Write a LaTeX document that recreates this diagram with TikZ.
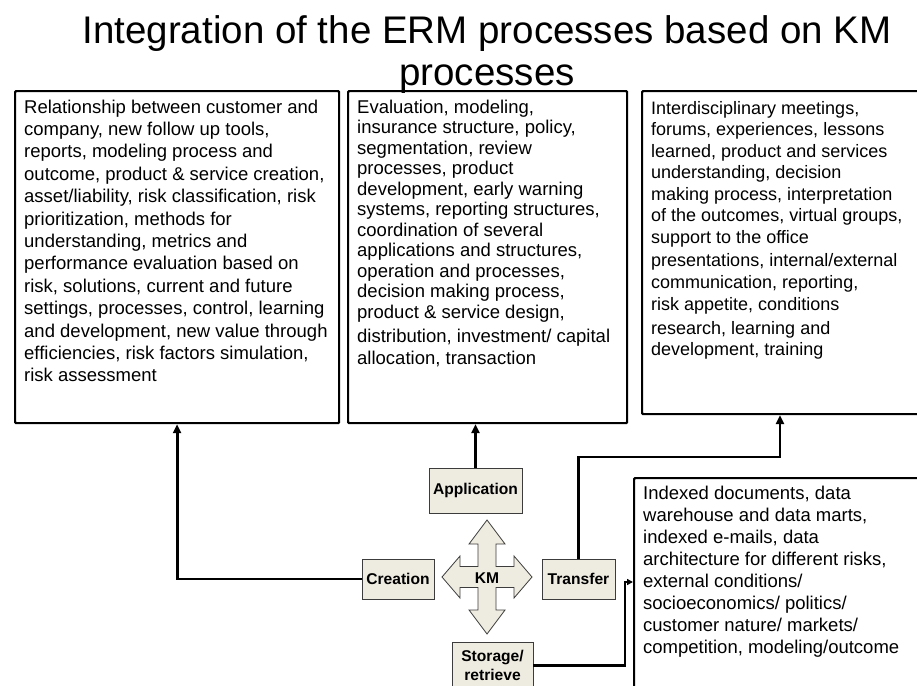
\documentclass[tikz,border=0pt]{standalone}
\usepackage{fontspec}
\setmainfont{Liberation Sans}
\usetikzlibrary{arrows.meta}
\definecolor{kmfill}{RGB}{238,236,225}
\definecolor{kmline}{RGB}{60,60,60}
\newcommand\boxfont[2]{\fontsize{#1}{#2}\selectfont\lineskiplimit=-8pt\relax}
\begin{document}
\begin{tikzpicture}[x=1pt, y=-1pt, >={Triangle[length=9pt,width=8pt]},
	box/.style={draw, line width=2.2pt, rounded corners=1pt, anchor=north west, inner sep=0pt},
	boxtext/.style={anchor=north west, align=left, inner sep=0pt, font=\boxfont{18.5}{22.4}},
	kmbox/.style={draw=kmline, fill=kmfill, line width=0.8pt, align=center, inner sep=0pt, font=\fontsize{15.6}{19}\selectfont\bfseries},
	kmarrow/.style={draw=kmline, fill=kmfill, line width=0.8pt, line join=miter},
	conn/.style={line width=2.8pt}
	]
	\useasboundingbox (0,0) rectangle (917,685);
	
	\node [align=center, anchor=north, inner sep=0pt, font=\fontsize{38.5}{42}\selectfont] (title) at (487,15) {Integration of the ERM processes based on KM\\processes};
	
	\node [box, minimum width=324pt, minimum height=332pt] (c) at (14,90) {};
	\node [box, minimum width=279pt, minimum height=332pt] (a) at (347,90) {};
	\node [box, minimum width=300pt, minimum height=323pt] (t) at (641,90) {};
	\node [box, minimum width=320pt, minimum height=260pt] (s) at (633,477) {};
	
	\node [boxtext] (ct) at (24,99.5) {Relationship between customer and\\
		company, new follow up tools,\\
		reports, modeling process and\\
		outcome, product \& service creation,\\
		asset/liability, risk classification, risk\\
		prioritization, methods for\\
		understanding, metrics and\\
		performance evaluation based on\\
		risk, solutions, current and future\\
		settings, processes, control, learning\\
		and development, new value through\\
		efficiencies, risk factors simulation,\\
		risk assessment};
	\node [boxtext, font=\boxfont{18.5}{20.5}] (at) at (357,99.5) {Evaluation, modeling,\\
		insurance structure, policy,\\
		segmentation, review\\
		processes, product\\
		development, early warning\\
		systems, reporting structures,\\
		coordination of several\\
		applications and structures,\\
		operation and processes,\\
		decision making process,\\
		product \& service design,\\[4pt]
		distribution, investment/ capital\\[1pt]
		allocation, transaction};
	\node [boxtext, font=\boxfont{18}{21.5}] (tt) at (651,101) {Interdisciplinary meetings,\\
		forums, experiences, lessons\\
		learned, product and services\\
		understanding, decision\\
		making process, interpretation\\
		of the outcomes, virtual groups,\\
		support to the office\\[2pt]
		presentations, internal/external\\
		communication, reporting,\\[1pt]
		risk appetite, conditions\\[2pt]
		research, learning and\\
		development, training};
	\node [boxtext, font=\boxfont{18.5}{22}] (st) at (643,485.5) {Indexed documents, data\\
		warehouse and data marts,\\
		indexed e-mails, data\\
		architecture for different risks,\\
		external conditions/\\
		socioeconomics/ politics/\\
		customer nature/ markets/\\
		competition, modeling/outcome};
	
	\begin{scope}[shift={(487,577)}]
		\draw [kmarrow] (0,-57) -- (18,-33) -- (9,-33) -- (9,-10.5) -- (27,-10.5) -- (27,-21) -- (45,0)
			-- (27,21) -- (27,10.5) -- (9,10.5) -- (9,33) -- (18,33) -- (0,57) -- (-18,33) -- (-9,33)
			-- (-9,10.5) -- (-27,10.5) -- (-27,21) -- (-45,0) -- (-27,-21) -- (-27,-10.5) -- (-9,-10.5)
			-- (-9,-33) -- (-18,-33) -- cycle;
	\end{scope}
	\node [font=\fontsize{15.6}{19}\selectfont\bfseries] (km) at (487,578) {KM};
	
	\node [kmbox, minimum width=93pt, minimum height=45pt] (ap) at (475.5,490.5) {Application};
	\node [kmbox, minimum width=72pt, minimum height=40pt] (cr) at (398,579) {Creation};
	\node [kmbox, minimum width=73pt, minimum height=40pt] (tr) at (578.5,579) {Transfer};
	\node [kmbox, minimum width=81pt, minimum height=47pt] (sr) at (492.5,665.5) {Storage/\\retrieve};
	
	\coordinate (tb) at (780,457);
	\coordinate (sb) at (625,582);
	\draw [conn, ->] (cr.west) -| (c.south);
	\draw [conn, ->] (ap.north) -- (ap.north |- a.south);
	\draw [conn, ->] (tr.north) |- (tb) -- (tb |- t.south);
	\draw [conn, -{Triangle[length=6pt,width=6pt]}] (sr.east) -| (sb) -- (sb -| s.west);
\end{tikzpicture}
\end{document}
